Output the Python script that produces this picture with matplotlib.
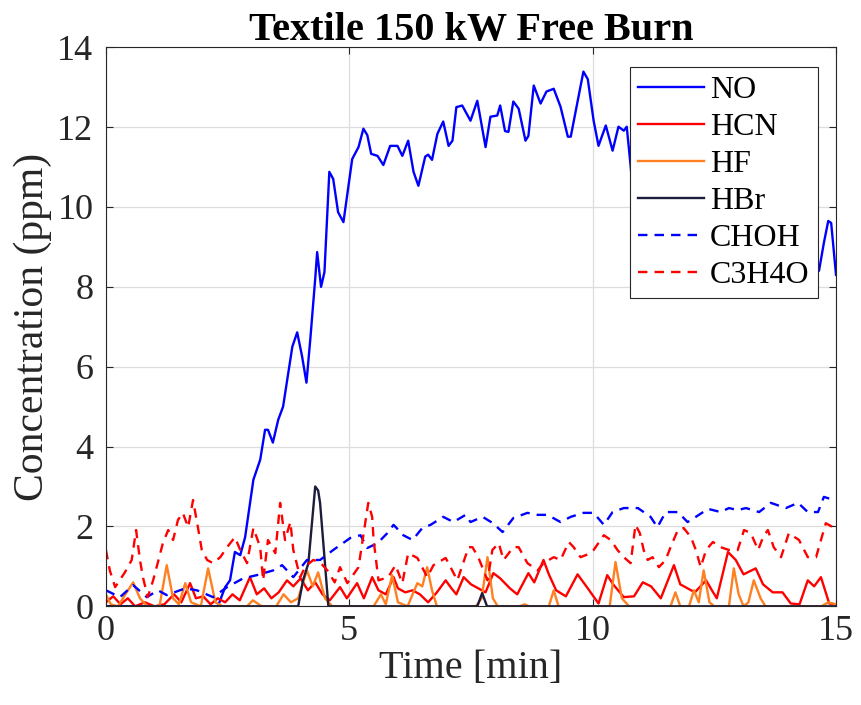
import numpy as np
import matplotlib
matplotlib.use('Agg')
import matplotlib.pyplot as plt

plt.rcParams['font.family'] = ['Liberation Serif', 'DejaVu Serif']

# NO (ppm) vs time (min)
no_t = [0.0, 1.0, 2.3, 2.45, 2.55, 2.65, 2.76, 2.86, 3.03, 3.17, 3.27, 3.33, 3.43, 3.54, 3.64,
        3.83, 3.93, 4.03, 4.12, 4.2, 4.3, 4.34, 4.42, 4.49, 4.59, 4.67, 4.77, 4.88, 5.06, 5.19,
        5.29, 5.37, 5.45, 5.58, 5.7, 5.84, 5.99, 6.09, 6.21, 6.32, 6.42, 6.56, 6.62, 6.7, 6.81,
        6.93, 7.04, 7.12, 7.2, 7.32, 7.49, 7.63, 7.8, 7.9, 8.04, 8.1, 8.2, 8.27, 8.37, 8.48,
        8.62, 8.68, 8.79, 8.93, 9.05, 9.2, 9.34, 9.49, 9.55, 9.69, 9.81, 9.9, 10.02, 10.12, 10.27,
        10.41, 10.53, 10.64, 10.7, 10.78, 10.82, 11.0, 11.5, 12.0, 12.5, 13.0, 13.5, 14.0, 14.4,
        14.65, 14.75, 14.84, 14.9, 15.0]
no_v = [0.0, 0.0, 0.0, 0.48, 0.65, 1.36, 1.28, 1.73, 3.17, 3.67, 4.42, 4.42, 4.1, 4.67, 5.0,
        6.5, 6.86, 6.26, 5.6, 6.7, 8.2, 8.87, 8.0, 8.37, 10.88, 10.7, 9.87, 9.62, 11.2, 11.5,
        11.96, 11.8, 11.33, 11.28, 11.05, 11.53, 11.53, 11.28, 11.66, 10.88, 10.53, 11.26, 11.31, 11.18, 11.83,
        12.14, 11.53, 11.66, 12.5, 12.54, 12.16, 12.66, 11.5, 12.26, 12.29, 12.54, 11.9, 11.88, 12.64, 12.46,
        11.66, 11.78, 13.04, 12.59, 12.89, 12.96, 12.51, 11.76, 11.76, 12.64, 13.39, 13.2, 12.16, 11.53, 12.04,
        11.41, 12.01, 11.91, 12.01, 11.03, 10.45, 9.8, 9.4, 9.6, 9.2, 9.5, 9.0, 9.2, 8.9,
        8.4, 9.1, 9.65, 9.6, 8.3]

# HCN
hcn_t = [0.0, 0.15, 0.3, 0.45, 0.6, 0.8, 1.0, 1.2, 1.4, 1.55, 1.73, 1.85, 2.0, 2.15, 2.3,
         2.45, 2.6, 2.75, 2.96, 3.1, 3.25, 3.4, 3.55, 3.72, 3.85, 4.0, 4.15, 4.3, 4.45, 4.6,
         4.81, 4.95, 5.16, 5.3, 5.47, 5.6, 5.75, 5.91, 6.0, 6.15, 6.3, 6.45, 6.62, 6.8, 6.98,
         7.1, 7.2, 7.35, 7.5, 7.65, 7.8, 7.96, 8.1, 8.3, 8.45, 8.68, 8.8, 8.99, 9.1, 9.25,
         9.45, 9.69, 9.9, 10.12, 10.3, 10.42, 10.64, 10.85, 11.03, 11.2, 11.4, 11.67, 11.8, 11.95, 12.1,
         12.33, 12.45, 12.55, 12.78, 12.94, 13.1, 13.35, 13.5, 13.7, 13.9, 14.07, 14.25, 14.42, 14.55, 14.69,
         14.86, 15.0]
hcn_v = [0.1, 0.25, 0.05, 0.2, 0.0, 0.1, 0.0, 0.05, 0.3, 0.1, 0.58, 0.2, 0.25, 0.05, 0.2,
         0.1, 0.3, 0.15, 0.73, 0.3, 0.45, 0.2, 0.35, 0.65, 0.5, 0.7, 0.4, 0.6, 0.3, 0.15,
         0.48, 0.2, 0.58, 0.2, 0.73, 0.4, 0.3, 0.73, 0.45, 0.35, 0.4, 0.3, 0.1, 0.35, 0.65,
         0.45, 0.3, 0.73, 0.55, 0.45, 0.35, 0.83, 0.7, 0.45, 0.3, 0.83, 0.6, 1.16, 0.8, 0.4,
         0.25, 0.8, 0.45, 0.07, 0.78, 0.55, 0.23, 0.25, 0.6, 0.5, 0.2, 1.03, 0.55, 0.45, 0.35,
         0.65, 0.4, 0.2, 1.36, 1.16, 0.8, 0.95, 0.55, 0.35, 0.35, 0.07, 0.05, 0.65, 0.5, 0.73,
         0.07, 0.05]

# HF
hf_t = [0.0, 0.1, 0.25, 0.4, 0.56, 0.7, 0.85, 1.1, 1.25, 1.38, 1.5, 1.63, 1.75, 1.95, 2.1,
        2.25, 2.4, 2.9, 3.02, 3.2, 3.5, 3.65, 3.8, 3.95, 4.13, 4.25, 4.36, 4.5, 4.65, 5.5,
        5.65, 5.75, 5.88, 6.0, 6.2, 6.3, 6.4, 6.5, 6.6, 6.7, 6.8, 7.6, 7.72, 7.84, 7.95,
        8.05, 8.5, 8.6, 8.7, 9.1, 9.2, 9.3, 10.35, 10.47, 10.6, 10.75, 11.6, 11.7, 11.8, 11.98,
        12.08, 12.18, 12.28, 12.4, 12.5, 12.8, 12.9, 13.0, 13.1, 13.2, 13.31, 13.45, 13.55, 14.7, 14.84,
        15.0]
hf_v = [0.3, 0.05, 0.0, 0.3, 0.6, 0.2, 0.0, 0.0, 1.03, 0.2, 0.05, 0.58, 0.1, 0.0, 0.95,
        0.1, 0.0, 0.0, 0.15, 0.0, 0.0, 0.3, 0.1, 0.2, 0.9, 0.5, 0.85, 0.2, 0.0, 0.0,
        0.3, 0.05, 0.78, 0.1, 0.0, 0.3, 0.58, 0.5, 0.98, 0.4, 0.0, 0.0, 0.2, 1.23, 0.2,
        0.0, 0.0, 0.05, 0.0, 0.0, 0.4, 0.0, 0.0, 1.11, 0.2, 0.0, 0.0, 0.35, 0.0, 0.0,
        0.4, 0.1, 0.9, 0.1, 0.0, 0.0, 0.95, 0.3, 0.0, 0.1, 0.65, 0.2, 0.0, 0.0, 0.1,
        0.05]

# HBr
hbr_t = [0.0, 3.95, 4.05, 4.16, 4.3, 4.36, 4.4, 4.5, 4.57, 7.63, 7.73, 7.83, 15.0]
hbr_v = [0.0, 0.0, 0.65, 1.08, 3.0, 2.9, 2.59, 1.08, 0.0, 0.0, 0.33, 0.0, 0.0]

# CHOH
choh_t = [0.0, 0.29, 0.56, 0.84, 1.07, 1.25, 1.63, 1.87, 2.2, 2.49, 2.82, 3.1, 3.44, 3.62, 3.85,
          4.13, 4.4, 4.67, 5.02, 5.23, 5.37, 5.58, 5.78, 5.91, 6.11, 6.3, 6.5, 6.67, 6.93, 7.14,
          7.39, 7.49, 7.74, 7.94, 8.15, 8.37, 8.66, 8.87, 9.07, 9.34, 9.55, 9.81, 10.02, 10.23, 10.41,
          10.64, 10.93, 11.19, 11.33, 11.5, 11.75, 11.95, 12.12, 12.37, 12.63, 12.8, 12.98, 13.15, 13.42, 13.66,
          13.97, 14.22, 14.42, 14.63, 14.75, 14.96]
choh_v = [0.4, 0.23, 0.53, 0.23, 0.4, 0.28, 0.45, 0.4, 0.23, 0.48, 0.7, 0.78, 0.9, 1.03, 0.73,
          1.16, 1.16, 1.41, 1.71, 1.78, 1.46, 1.58, 1.83, 2.04, 1.78, 1.66, 1.96, 2.04, 2.24, 2.11,
          2.29, 2.11, 2.24, 2.09, 1.86, 2.21, 2.34, 2.29, 2.29, 2.11, 2.24, 2.34, 2.34, 2.04, 2.36,
          2.46, 2.46, 2.24, 1.98, 2.36, 2.36, 2.11, 2.24, 2.44, 2.36, 2.46, 2.41, 2.46, 2.36, 2.59,
          2.46, 2.59, 2.36, 2.36, 2.74, 2.66]

# C3H4O
c3_t = [0.0, 0.08, 0.19, 0.39, 0.53, 0.62, 0.7, 0.76, 0.86, 0.97, 1.07, 1.17, 1.28, 1.38, 1.48,
        1.58, 1.69, 1.79, 1.89, 1.97, 2.08, 2.2, 2.35, 2.49, 2.65, 2.76, 2.9, 3.03, 3.17, 3.23,
        3.33, 3.48, 3.58, 3.68, 3.79, 3.85, 3.99, 4.1, 4.26, 4.4, 4.55, 4.7, 4.81, 4.96, 5.19,
        5.39, 5.47, 5.5, 5.6, 5.8, 5.95, 6.09, 6.21, 6.4, 6.6, 6.73, 6.98, 7.08, 7.22, 7.45,
        7.53, 7.65, 7.84, 7.94, 8.07, 8.17, 8.37, 8.48, 8.66, 8.87, 8.99, 9.2, 9.34, 9.51, 9.61,
        9.75, 9.9, 10.02, 10.23, 10.37, 10.51, 10.64, 10.78, 10.88, 10.97, 11.05, 11.13, 11.23, 11.36, 11.5,
        11.6, 11.75, 11.87, 12.02, 12.12, 12.22, 12.33, 12.47, 12.63, 12.8, 12.98, 13.11, 13.25, 13.4, 13.5,
        13.6, 13.72, 13.87, 14.03, 14.24, 14.42, 14.59, 14.69, 14.79, 14.94]
c3_v = [1.41, 0.9, 0.48, 0.85, 1.16, 1.91, 1.16, 0.73, 0.23, 0.65, 1.11, 1.58, 1.91, 1.66, 2.16,
        2.34, 1.98, 2.66, 1.98, 1.41, 1.16, 1.08, 1.23, 1.48, 1.73, 1.41, 1.08, 1.96, 1.48, 0.65,
        1.66, 1.33, 2.59, 1.66, 2.11, 1.41, 0.73, 1.0, 1.16, 1.1, 0.9, 0.6, 0.98, 0.58, 0.98,
        2.59, 2.24, 1.66, 0.65, 0.73, 1.03, 0.58, 1.33, 1.21, 0.73, 1.03, 1.21, 0.98, 0.65, 1.48,
        1.48, 1.23, 0.65, 1.41, 1.58, 1.16, 1.48, 1.48, 1.08, 0.9, 1.08, 1.23, 1.16, 1.61, 1.48,
        1.23, 1.3, 1.41, 1.78, 1.66, 1.41, 1.23, 1.08, 2.04, 1.83, 1.4, 1.16, 1.23, 0.98, 1.16,
        1.48, 1.91, 1.96, 1.73, 1.41, 0.98, 1.41, 1.61, 1.48, 1.41, 1.41, 1.91, 1.83, 1.41, 1.73,
        1.91, 1.48, 1.23, 1.83, 1.66, 1.23, 1.23, 1.66, 2.08, 1.98]

fig = plt.figure(figsize=(8.61, 7.05), dpi=100)
ax = fig.add_axes([0.123, 0.140, 0.848, 0.793])

dash = (0, (4, 3))
ax.plot(no_t, no_v, color='#0000ff', lw=1.7, label='NO')
ax.plot(hcn_t, hcn_v, color='#ff0000', lw=1.7, label='HCN')
ax.plot(hf_t, hf_v, color='#ff8020', lw=1.7, label='HF')
ax.plot(hbr_t, hbr_v, color='#1c1c3c', lw=1.7, label='HBr')
ax.plot(choh_t, choh_v, color='#0000ff', lw=1.7, ls=dash, label='CHOH')
ax.plot(c3_t, c3_v, color='#ff0000', lw=1.7, ls=dash, label='C3H4O')

ax.set_xlim(0, 15)
ax.set_ylim(0, 14)
ax.set_xticks([0, 5, 10, 15])
ax.set_yticks(range(0, 15, 2))
ax.grid(True, color='#dddddd', lw=0.9)
ax.set_axisbelow(True)
ax.tick_params(direction='in', top=True, right=True, labelsize=26, colors='#262626',
               length=5, width=0.8)
ax.tick_params(axis='y', pad=9)
ax.tick_params(axis='x', pad=6)
for s in ax.spines.values():
    s.set_color('#262626')
    s.set_linewidth(0.8)

ax.set_xlabel('Time [min]', fontsize=29, color='#262626', labelpad=2)
ax.set_ylabel('Concentration (ppm)', fontsize=30, color='#262626', labelpad=4)
ax.set_title('Textile 150 kW Free Burn', fontsize=29, fontweight='bold', pad=5)

leg = ax.legend(loc='upper right', bbox_to_anchor=(0.975, 0.964), borderaxespad=0,
                fontsize=23, handlelength=2.05, labelspacing=0.24, handletextpad=0.2,
                borderpad=0.25, fancybox=False, framealpha=1, edgecolor='#262626')
leg.get_frame().set_linewidth(0.8)

fig.savefig('out.png', dpi=100)
